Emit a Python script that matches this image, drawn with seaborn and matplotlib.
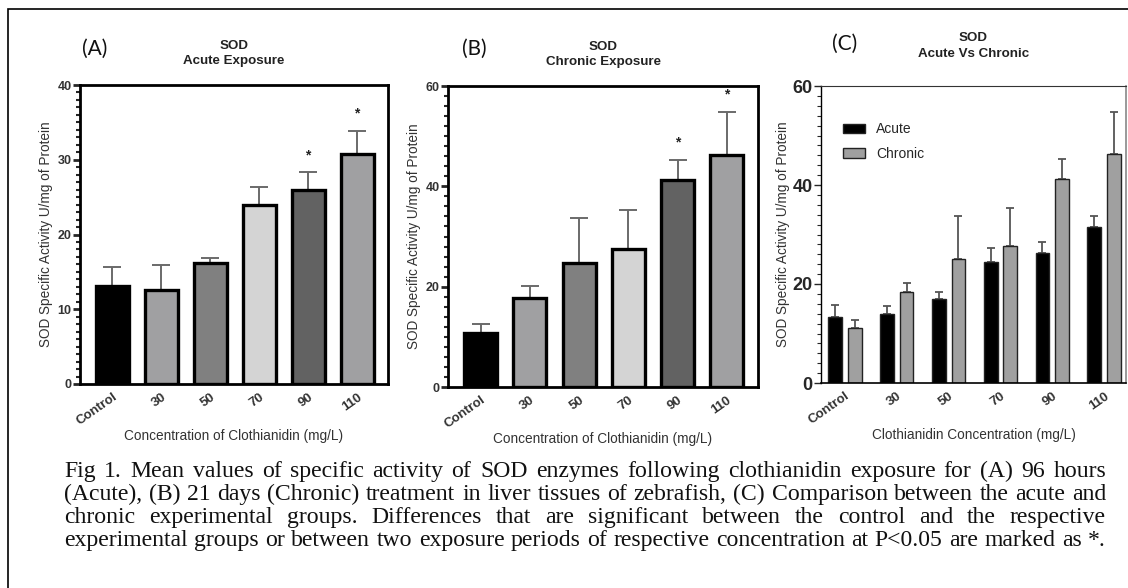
import numpy as np
import pandas as pd
import seaborn as sns
import matplotlib
matplotlib.use("Agg")
import matplotlib.pyplot as plt
from matplotlib.ticker import MultipleLocator
from matplotlib.patches import Rectangle, Patch

# data (mean and top of SEM bar)
conc = ["Control", "30", "50", "70", "90", "110"]
acute_mean = [13.1, 12.6, 16.2, 24.0, 26.0, 30.8]
acute_err = [15.6, 15.9, 16.8, 26.4, 28.3, 33.9]
chronic_mean = [10.8, 17.8, 24.8, 27.6, 41.2, 46.2]
chronic_err = [12.6, 20.2, 33.7, 35.3, 45.2, 54.8]
# panel C values (as drawn in the comparison plot)
cmp_acute_mean = [13.3, 13.9, 17.0, 24.5, 26.2, 31.6]
cmp_acute_err = [15.7, 15.6, 18.4, 27.2, 28.5, 33.8]
cmp_chronic_mean = [11.1, 18.3, 25.0, 27.7, 41.3, 46.3]
cmp_chronic_err = [12.7, 20.2, 33.7, 35.4, 45.2, 54.7]
acute_sig = ["90", "110"]
chronic_sig = ["90", "110"]

bar_colors = ["#000000", "#a0a0a2", "#808080", "#d4d4d4", "#626262", "#a0a0a2"]

caption_lines = [
    "Fig 1. Mean values of specific activity of SOD enzymes following clothianidin exposure for (A) 96 hours",
    "(Acute), (B) 21 days (Chronic) treatment in liver tissues of zebrafish, (C) Comparison between the acute and",
    "chronic experimental groups. Differences that are significant between the control and the respective",
    "experimental groups or between two exposure periods of respective concentration at P<0.05 are marked as *.",
]

sns.set_style("ticks")
plt.rcParams['font.family'] = ['Liberation Sans', 'DejaVu Sans']

W, H = 1128, 588
fig = plt.figure(figsize=(W / 100, H / 100), dpi=100)
TXT = "#333333"


def px_axes(x0, y0, x1, y1):
    return fig.add_axes([x0 / W, (H - y1) / H, (x1 - x0) / W, (y1 - y0) / H])


def single_panel(ax, means, errs, sig, ymax, major, minor, title, letter, letter_x):
    df = pd.DataFrame({"conc": conc, "mean": means})
    sns.barplot(data=df, x="conc", y="mean", hue="conc", order=conc, hue_order=conc,
                palette=bar_colors, legend=False, errorbar=None, width=0.67,
                edgecolor="black", linewidth=2.4, ax=ax, zorder=2)
    xs = [p.get_x() + p.get_width() / 2 for p in ax.patches]
    lower = np.zeros(len(means))
    upper = np.array(errs) - np.array(means)
    ax.errorbar(xs, means, yerr=[lower, upper], fmt="none", ecolor="#6a6a6a",
                elinewidth=1.4, capsize=6.5, capthick=1.4, zorder=1)
    for c in sig:
        i = conc.index(c)
        ax.text(xs[i], errs[i] + ymax * 0.035, "*", ha="center", va="bottom",
                fontsize=10, fontweight="bold", color="#222222")
    ax.set_xlim(-0.66, 5.63)
    ax.set_ylim(0, ymax)
    ax.yaxis.set_major_locator(MultipleLocator(major))
    ax.yaxis.set_minor_locator(MultipleLocator(minor))
    for s in ax.spines.values():
        s.set_linewidth(2.0)
        s.set_color("black")
    ax.tick_params(axis="y", which="major", length=5, width=2, labelsize=9, pad=1)
    ax.tick_params(axis="y", which="minor", length=3, width=1.5)
    ax.tick_params(axis="x", length=0, labelsize=9.5, pad=5)
    for lab in ax.get_yticklabels():
        lab.set_fontweight("bold")
        lab.set_color(TXT)
    ax.set_xticks(range(len(conc)))
    ax.set_xticklabels(conc, rotation=35, ha="right", rotation_mode="anchor",
                       fontweight="bold", color=TXT)
    ax.set_xlabel("Concentration of Clothianidin (mg/L)", fontsize=9.8, color=TXT, labelpad=1)
    ax.set_ylabel("SOD Specific Activity U/mg of Protein", fontsize=9.8, color=TXT, labelpad=3)
    ax.set_title(title, fontsize=9.6, fontweight="bold", color="#222222", linespacing=1.4, pad=15)
    fig.text(letter_x / W, 1 - 49 / H, letter, fontsize=15, family=["Lato", "DejaVu Sans"],
             ha="left", va="center", color="#111111")


axA = px_axes(80, 85, 388, 384)
single_panel(axA, acute_mean, acute_err, acute_sig, 40, 10, 1,
             "SOD\nAcute Exposure", "(A)", 82)

axB = px_axes(448, 86, 758, 387)
single_panel(axB, chronic_mean, chronic_err, chronic_sig, 60, 20, 2,
             "SOD\nChronic Exposure", "(B)", 462)

# panel C: acute vs chronic
axC = px_axes(821, 86, 1126, 383)
dfc = pd.DataFrame({
    "conc": conc * 2,
    "mean": cmp_acute_mean + cmp_chronic_mean,
    "exposure": ["Acute"] * len(conc) + ["Chronic"] * len(conc),
})
sns.barplot(data=dfc, x="conc", y="mean", hue="exposure", order=conc,
            palette=["#000000", "#a0a0a0"], errorbar=None, width=0.76, gap=0.3,
            edgecolor="#222222", linewidth=1.0, ax=axC, zorder=2, legend=False)
for cont, m, e in zip(axC.containers,
                      [cmp_acute_mean, cmp_chronic_mean],
                      [cmp_acute_err, cmp_chronic_err]):
    xs = [p.get_x() + p.get_width() / 2 for p in cont]
    up = np.array(e) - np.array(m)
    axC.errorbar(xs, m, yerr=[np.zeros(len(m)), up], fmt="none", ecolor="#555555",
                 elinewidth=1.3, capsize=3, capthick=1.3, zorder=1)
axC.set_xlim(-0.46, 5.42)
axC.set_ylim(0, 60)
axC.yaxis.set_major_locator(MultipleLocator(20))
axC.yaxis.set_minor_locator(MultipleLocator(2))
axC.spines["left"].set_color("black")
axC.spines["bottom"].set_color("black")
axC.spines["left"].set_linewidth(1.0)
axC.spines["bottom"].set_linewidth(1.2)
axC.spines["top"].set_color("#333333")
axC.spines["top"].set_linewidth(0.8)
axC.spines["right"].set_color("#888888")
axC.spines["right"].set_linewidth(1.2)
axC.tick_params(axis="y", which="major", length=5, width=1, labelsize=13, pad=1)
axC.tick_params(axis="y", which="minor", length=3, width=0.8)
axC.tick_params(axis="x", length=0, labelsize=9.5, pad=5)
for lab in axC.get_yticklabels():
    lab.set_fontweight("bold")
axC.set_xticks(range(len(conc)))
axC.set_xticklabels(conc, rotation=35, ha="right", rotation_mode="anchor",
                    fontweight="bold", color=TXT)
axC.set_xlabel("Clothianidin Concentration (mg/L)", fontsize=9.8, color=TXT, labelpad=1)
axC.set_ylabel("SOD Specific Activity U/mg of Protein", fontsize=9.8, color=TXT, labelpad=2)
axC.set_title("SOD\nAcute Vs Chronic", fontsize=9.6, fontweight="bold", color="#222222",
              linespacing=1.4, pad=21)
fig.text(832 / W, 1 - 44 / H, "(C)", fontsize=15, family=["Lato", "DejaVu Sans"],
         ha="left", va="center", color="#111111")
handles = [Patch(facecolor="#000000", edgecolor="#222222"),
           Patch(facecolor="#a0a0a0", edgecolor="#222222")]
axC.legend(handles, ["Acute", "Chronic"], loc="upper left", frameon=False, fontsize=10,
           bbox_to_anchor=(0.03, 0.92), handlelength=1.6, handleheight=0.7,
           labelspacing=0.75, handletextpad=0.8)

# outer frame (left and top edges visible)
fig.add_artist(Rectangle((8 / W, -0.2), 1.2, (H - 9) / H + 0.2, transform=fig.transFigure,
                         fill=False, edgecolor="black", linewidth=1.2, clip_on=False))

# justified caption in a serif face, sized so the last line fits with normal spacing
renderer = fig.canvas.get_renderer()
x_left, x_right = 64, 1106
baselines = [477, 500, 523, 546]
serif = ["Liberation Serif", "DejaVu Serif"]
probe = fig.text(0, 0, caption_lines[-1], fontsize=15, family=serif)
cap_size = 15 * (x_right - x_left) / probe.get_window_extent(renderer).width
probe.remove()
for line, yb in zip(caption_lines, baselines):
    words = line.split(" ")
    texts = [fig.text(0, 1 - yb / H, w, fontsize=cap_size, family=serif,
                      va="baseline", ha="left", color="#111111") for w in words]
    widths = [t.get_window_extent(renderer).width for t in texts]
    gap = (x_right - x_left - sum(widths)) / (len(words) - 1)
    x = x_left
    for t, wd in zip(texts, widths):
        t.set_x(x / W)
        x += wd + gap

fig.savefig("out.png", dpi=100)
print("done")
